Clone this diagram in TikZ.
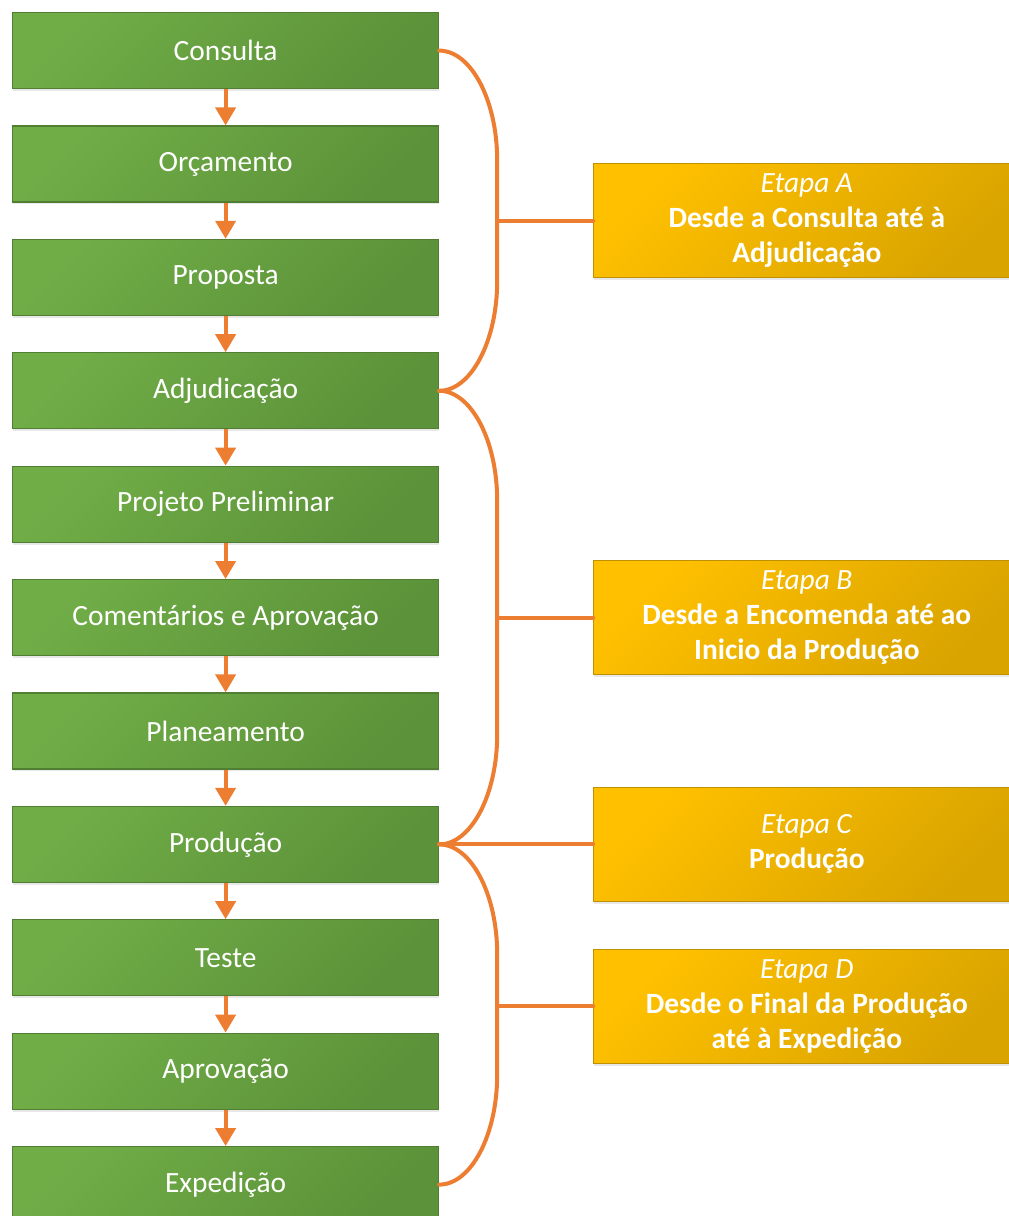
\documentclass[tikz,border=0pt]{standalone}
\usepackage{fontspec}
\setmainfont{Carlito}
\usetikzlibrary{arrows.meta, positioning, calc, shadows}
\definecolor{boxgreen}{HTML}{70AD47}
\definecolor{boxgreendk}{HTML}{5C9239}
\definecolor{greenline}{HTML}{507E32}
\definecolor{etgold}{HTML}{FFC000}
\definecolor{etgolddk}{HTML}{D9A400}
\definecolor{goldline}{HTML}{BF9000}
\definecolor{orng}{HTML}{ED7D31}

\begin{document}
\begin{tikzpicture}[
  font=\fontsize{14.7pt}{17.5pt}\selectfont,
  every node/.style={align=center},
  stepbox/.style={rectangle, draw=greenline, line width=0.6pt,
                  top color=boxgreen, bottom color=boxgreendk, shading angle=45,
                  text=white, minimum width=213pt, minimum height=38pt, inner sep=0pt,
                  drop shadow={shadow xshift=0pt, shadow yshift=-1.2pt, opacity=0.18}},
  stagebox/.style={rectangle, draw=goldline, line width=0.6pt,
                   top color=etgold, bottom color=etgolddk, shading angle=45,
                   text=white, minimum width=213pt, minimum height=57pt, inner sep=0pt,
                   drop shadow={shadow xshift=0pt, shadow yshift=-1.2pt, opacity=0.18}},
  flow/.style={draw=orng, line width=2pt, -{Triangle[width=10pt, length=9pt]}},
  link/.style={draw=orng, line width=2pt, line cap=round},
]
\useasboundingbox (0,0) rectangle (504pt,-608pt);

% ---------- process steps (left column) ----------
\node[stepbox, anchor=north west] (consulta) at (6pt,-6pt) {Consulta};
\node[stepbox, below=18.1pt of consulta] (orcamento) {Orçamento};
\node[stepbox, below=18.1pt of orcamento] (proposta) {Proposta};
\node[stepbox, below=18.1pt of proposta] (adjudicacao) {Adjudicação};
\node[stepbox, below=18.1pt of adjudicacao] (projeto) {Projeto Preliminar};
\node[stepbox, below=18.1pt of projeto] (comentarios) {Comentários e Aprovação};
\node[stepbox, below=18.1pt of comentarios] (planeamento) {Planeamento};
\node[stepbox, below=18.1pt of planeamento] (producao) {Produção};
\node[stepbox, below=18.1pt of producao] (teste) {Teste};
\node[stepbox, below=18.1pt of teste] (aprovacao) {Aprovação};
\node[stepbox, below=18.1pt of aprovacao] (expedicao) {Expedição};

% ---------- stages (right column) ----------
\node[stagebox, anchor=west] (etapaA) at ($(consulta.east)!0.5!(adjudicacao.east)+(77pt,0)$)
  {\textit{Etapa A}\\ \textbf{Desde a Consulta até à}\\ \textbf{Adjudicação}};
\node[stagebox, anchor=west] (etapaB) at ($(adjudicacao.east)!0.5!(producao.east)+(77pt,0)$)
  {\textit{Etapa B}\\ \textbf{Desde a Encomenda até ao}\\ \textbf{Inicio da Produção}};
\node[stagebox, right=77pt of producao] (etapaC) {\textit{Etapa C}\\ \textbf{Produção}};
\node[stagebox, below=23.4pt of etapaC] (etapaD)
  {\textit{Etapa D}\\ \textbf{Desde o Final da Produção}\\ \textbf{até à Expedição}};

% ---------- arrows between steps ----------
\draw[flow] (consulta) -- (orcamento);
\draw[flow] (orcamento) -- (proposta);
\draw[flow] (proposta) -- (adjudicacao);
\draw[flow] (adjudicacao) -- (projeto);
\draw[flow] (projeto) -- (comentarios);
\draw[flow] (comentarios) -- (planeamento);
\draw[flow] (planeamento) -- (producao);
\draw[flow] (producao) -- (teste);
\draw[flow] (teste) -- (aprovacao);
\draw[flow] (aprovacao) -- (expedicao);

% ---------- braces grouping the steps ----------
\coordinate (spine) at ($(consulta.east)+(29pt,0)$);
\draw[link] (consulta.east) .. controls +(16pt,0) and +(0,30pt) .. ($(consulta.east)+(29pt,-55pt)$)
  -- ($(adjudicacao.east)+(29pt,55pt)$) .. controls +(0,-30pt) and +(16pt,0) .. (adjudicacao.east);
\draw[link] (adjudicacao.east) .. controls +(16pt,0) and +(0,30pt) .. ($(adjudicacao.east)+(29pt,-55pt)$)
  -- ($(producao.east)+(29pt,55pt)$) .. controls +(0,-30pt) and +(16pt,0) .. (producao.east);
\draw[link] (producao.east) .. controls +(16pt,0) and +(0,30pt) .. ($(producao.east)+(29pt,-55pt)$)
  -- ($(expedicao.east)+(29pt,55pt)$) .. controls +(0,-30pt) and +(16pt,0) .. (expedicao.east);

% ---------- brace to stage links ----------
\draw[link] (etapaA.west) -- (etapaA.west -| spine);
\draw[link] (etapaB.west) -- (etapaB.west -| spine);
\draw[link] (producao.east) -- (etapaC.west);
\draw[link] (etapaD.west) -- (etapaD.west -| spine);

\end{tikzpicture}
\end{document}
